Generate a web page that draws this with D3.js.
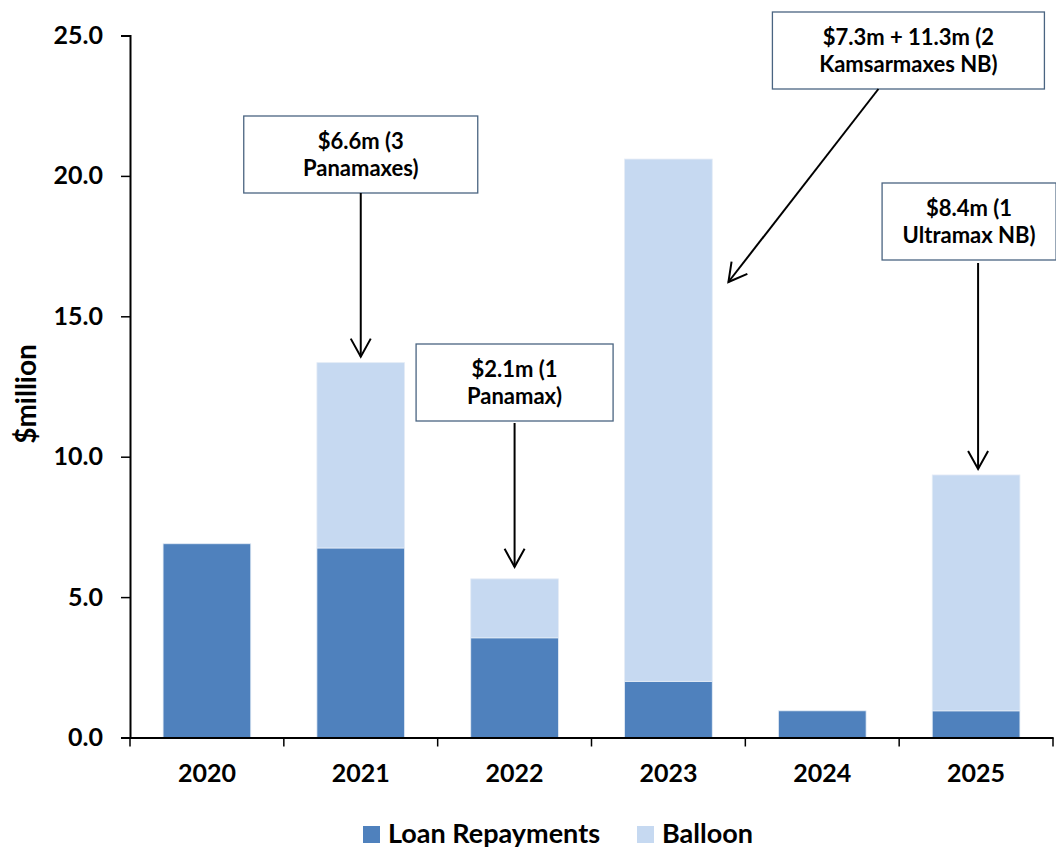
<!doctype html>
<html>
<head>
<meta charset="utf-8"/>
<title>Loan repayments and balloons</title>
<script src="https://d3js.org/d3.v7.min.js"></script>
<style>
  body { margin: 0; background: #fff; }
  text { font-family: Lato, "Open Sans", sans-serif; font-weight: bold; fill: #000; }
</style>
</head>
<body>
<script>
// ---- data ----
var years = ["2020", "2021", "2022", "2023", "2024", "2025"];
var loanRepayments = [6.9, 6.75, 3.55, 2.0, 0.95, 0.95];
var balloon = [0, 6.6, 2.1, 18.6, 0, 8.4];
var yTicks = [0, 5, 10, 15, 20, 25];
var seriesNames = ["Loan Repayments", "Balloon"];
var seriesColors = ["#4F81BD", "#C6D9F1"];

// annotation text, by year
var noteYears = ["2021", "2022", "2023", "2025"];
var noteLines = [
  ["$6.6m (3", "Panamaxes)"],
  ["$2.1m (1", "Panamax)"],
  ["$7.3m + 11.3m (2", "Kamsarmaxes NB)"],
  ["$8.4m (1", "Ultramax NB)"]
];

var W = 1056, H = 849;
var plotL = 130, plotR = 1053, plotT = 35.5, plotB = 737.5;

var svg = d3.select("body").append("svg")
  .attr("width", W).attr("height", H);

var defs = svg.append("defs");
defs.append("marker")
  .attr("id", "arrow")
  .attr("markerUnits", "userSpaceOnUse")
  .attr("viewBox", "-2 -12 24 24")
  .attr("markerWidth", 24).attr("markerHeight", 24)
  .attr("refX", 19).attr("refY", 0)
  .attr("orient", "auto")
  .append("path")
  .attr("d", "M1,-10 L19,0 L1,10")
  .attr("fill", "none").attr("stroke", "#000").attr("stroke-width", 2);

var x = d3.scaleBand().domain(years).range([plotL, plotR]);
var y = d3.scaleLinear().domain([0, 25]).range([plotB, plotT]);

var rows = years.map(function(yr, i) {
  return { year: yr, loan: loanRepayments[i], balloon: balloon[i] };
});
var stack = d3.stack().keys(["loan", "balloon"])(rows);

var barW = x.bandwidth() * 0.57;
var barOff = (x.bandwidth() - barW) / 2;

svg.append("g").selectAll("g")
  .data(stack).enter().append("g")
  .attr("fill", function(d, i) { return seriesColors[i]; })
  .selectAll("rect")
  .data(function(d) { return d.filter(function(p) { return p[1] - p[0] > 0; }); })
  .enter().append("rect")
  .attr("x", function(d) { return x(d.data.year) + barOff; })
  .attr("width", barW)
  .attr("y", function(d) { return y(d[1]); })
  .attr("height", function(d) { return y(d[0]) - y(d[1]); })
  .attr("stroke", "#E4ECF6").attr("stroke-width", 0.8);

// y axis
var yAxis = svg.append("g")
  .attr("transform", "translate(" + plotL + ",0)")
  .call(d3.axisLeft(y).tickValues(yTicks).tickFormat(d3.format(".1f")).tickSize(9).tickPadding(18));
yAxis.selectAll("text").style("font-size", "25px");

// x axis: labels centred, ticks on band edges
var xAxis = svg.append("g")
  .attr("transform", "translate(0," + plotB + ")")
  .call(d3.axisBottom(x).tickSize(0).tickPadding(27).tickSizeOuter(0));
xAxis.selectAll("text").style("font-size", "25px");
xAxis.selectAll(".tick line").remove();
var edges = years.map(function(d) { return x(d); }).concat([x.range()[1]]);
xAxis.selectAll(".edge").data(edges).enter().append("line")
  .attr("class", "edge")
  .attr("x1", function(d) { return d; }).attr("x2", function(d) { return d; })
  .attr("y1", 0).attr("y2", 9).attr("stroke", "#000");

svg.selectAll(".domain").attr("stroke", "#000").attr("stroke-width", 2);
yAxis.selectAll(".tick line").attr("stroke-width", 1.5);
xAxis.selectAll(".edge").attr("stroke-width", 1.5);

// y title
svg.append("text")
  .attr("transform", "translate(36,394) rotate(-90)")
  .attr("text-anchor", "middle")
  .style("font-size", "28px")
  .text("$million");

// annotations: box placement (layout)
var boxes = [
  { cx: 0, top: 116, w: 234, from: [0, 193], tipDy: -6 },
  { cx: 0, top: 344, w: 197, from: [0, 423], tipDy: -12 },
  { cx: 240, top: 12, w: 272, from: [210, 89], tip: [60, 282] },
  { cx: -7, top: 183, w: 174, from: [2, 263], tipDy: -6 }
];

var totals = years.map(function(d, i) { return loanRepayments[i] + balloon[i]; });

noteYears.forEach(function(yr, i) {
  var b = boxes[i];
  var c = x(yr) + x.bandwidth() / 2;
  var g = svg.append("g");
  g.append("rect")
    .attr("x", c + b.cx - b.w / 2).attr("y", b.top)
    .attr("width", b.w).attr("height", 77)
    .attr("fill", "#fff").attr("stroke", "#4A6481").attr("stroke-width", 1.3);
  noteLines[i].forEach(function(t, k) {
    g.append("text")
      .attr("x", c + b.cx).attr("y", b.top + 33 + k * 27)
      .attr("text-anchor", "middle")
      .style("font-size", "22px")
      .text(t);
  });
  var ty = y(totals[years.indexOf(yr)]);
  var tip = b.tip ? [c + b.tip[0], b.tip[1]] : [c + b.from[0], ty + b.tipDy];
  svg.append("line")
    .attr("x1", c + b.from[0]).attr("y1", b.from[1])
    .attr("x2", tip[0]).attr("y2", tip[1])
    .attr("stroke", "#000").attr("stroke-width", 2)
    .attr("marker-end", "url(#arrow)");
});

// legend
var legX = [363, 637];
var leg = svg.append("g").selectAll("g").data(seriesNames).enter().append("g")
  .attr("transform", function(d, i) { return "translate(" + legX[i] + ",826)"; });
leg.append("rect").attr("width", 17).attr("height", 17)
  .attr("fill", function(d, i) { return seriesColors[i]; });
leg.append("text").attr("x", 25).attr("y", 17)
  .style("font-size", "27px")
  .text(function(d) { return d; });
</script>
</body>
</html>
